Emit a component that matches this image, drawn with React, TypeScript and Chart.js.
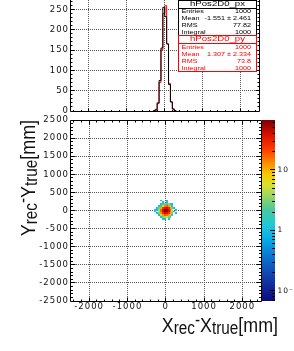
import React, { useEffect, useRef } from "react";
import { Chart, registerables } from "chart.js";

Chart.register(...registerables);

// ---------------- data ----------------
const X_MIN = -2500;
const X_MAX = 2500;
const Y_MIN = -2500;
const Y_MAX = 2500;
const HIST_Y_MAX = 273;
const Z_MIN = 0.068;
const Z_MAX = 67;

// 50 mm bins around the peak (outside: empty)
const binEdges = [-300, -250, -200, -150, -100, -50, 0, 50, 100, 150, 200, 250, 300];
const pxCounts = [1, 4, 20, 75, 155, 255, 232, 165, 65, 22, 5, 1];
const pyCounts = [0, 2, 18, 70, 150, 240, 259, 165, 68, 23, 5, 0];

// 2D map: rows from y = [250,300] (top) down to y = [-300,-250]; columns follow binEdges in x
const mapCounts = [
  [0, 0, 0, 1, 0, 0, 1, 0, 0, 0, 0, 0],
  [0, 0, 0, 0, 1, 0, 1, 0, 0, 0, 0, 0],
  [0, 0, 0, 1, 2, 3, 2, 4, 1, 1, 0, 0],
  [0, 0, 1, 2, 6, 14, 18, 12, 5, 1, 0, 0],
  [0, 1, 3, 11, 24, 37, 40, 27, 12, 3, 1, 0],
  [1, 1, 4, 17, 39, 58, 55, 36, 17, 5, 0, 1],
  [1, 0, 5, 18, 36, 60, 57, 39, 16, 4, 1, 0],
  [0, 1, 3, 12, 27, 39, 36, 25, 11, 3, 0, 1],
  [0, 0, 1, 5, 12, 18, 16, 11, 4, 2, 0, 0],
  [0, 0, 0, 1, 3, 4, 5, 3, 2, 0, 0, 0],
  [0, 0, 0, 0, 1, 1, 0, 1, 0, 0, 0, 0],
  [0, 0, 0, 0, 0, 0, 0, 0, 0, 0, 0, 0],
];

const xTickValues = [-2000, -1000, 0, 1000, 2000];
const yTickValues = [-2500, -2000, -1500, -1000, -500, 0, 500, 1000, 1500, 2000, 2500];
const histYTickValues = [0, 50, 100, 150, 200, 250];
const zTickValues = [0.1, 1, 10];
const zTickLabels = ["10\u207B\u00B9", "1", "10"];
const zMinorTickValues = [0.07, 0.08, 0.09, 0.2, 0.3, 0.4, 0.5, 0.6, 0.7, 0.8, 0.9, 2, 3, 4, 5, 6, 7, 8, 9, 20, 30, 40, 50, 60];

const statLabels = ["Entries", "Mean", "RMS", "Integral"];
const pxStatValues = ["1000", "-1.551 \u00B1 2.461", "77.82", "1000"];
const pyStatValues = ["1000", "1.307 \u00B1 2.334", "73.8", "1000"];
const pxTitle = "hPos2D0_px";
const pyTitle = "hPos2D0_py";

// ---------------- style ----------------
const PALETTE: [number, string][] = [
  [0.0, "#0c0c7a"],
  [0.12, "#1438a8"],
  [0.25, "#0a78d0"],
  [0.35, "#08b0e8"],
  [0.42, "#20c8d8"],
  [0.5, "#48c8a0"],
  [0.57, "#90d468"],
  [0.64, "#d8e030"],
  [0.7, "#f8c800"],
  [0.76, "#f89000"],
  [0.84, "#ff3800"],
  [0.92, "#d81000"],
  [1.0, "#7a0000"],
];
const TICK_FONT = { family: "DejaVu Sans", size: 8.5 };
const GRID_COLOR = "#555";
const RED = "#ff0000";
const plainLabel = (v: any) => String(v);

function hexRgb(h: string) {
  return [parseInt(h.slice(1, 3), 16), parseInt(h.slice(3, 5), 16), parseInt(h.slice(5, 7), 16)];
}
function paletteColor(f: number) {
  f = Math.max(0, Math.min(1, f));
  for (let i = 1; i < PALETTE.length; i++) {
    if (f <= PALETTE[i][0]) {
      const [p0, c0] = PALETTE[i - 1];
      const [p1, c1] = PALETTE[i];
      const t = (f - p0) / (p1 - p0);
      const a = hexRgb(c0), b = hexRgb(c1);
      return `rgb(${a.map((v, k) => Math.round(v + (b[k] - v) * t)).join(",")})`;
    }
  }
  return PALETTE[PALETTE.length - 1][1];
}

function stepPoints(counts: number[]) {
  const pts = [{ x: binEdges[0], y: 0 }];
  counts.forEach((c, i) => pts.push({ x: binEdges[i], y: c }));
  pts.push({ x: binEdges[binEdges.length - 1], y: 0 });
  return pts;
}

type Part = { t: string; size: number; dy: number };
const xTitleParts: Part[] = [
  { t: "X", size: 21, dy: 0 },
  { t: "rec", size: 18, dy: 2 },
  { t: "-", size: 18, dy: -6 },
  { t: "X", size: 21, dy: 0 },
  { t: "true", size: 18, dy: 2 },
  { t: "[mm]", size: 21, dy: 0 },
];
const yTitleParts: Part[] = [
  { t: "Y", size: 21, dy: 0 },
  { t: "rec", size: 18, dy: 2 },
  { t: "-", size: 18, dy: -6 },
  { t: "Y", size: 21, dy: 0 },
  { t: "true", size: 18, dy: 2 },
  { t: "[mm]", size: 21, dy: 0 },
];

function drawParts(ctx: CanvasRenderingContext2D, parts: Part[], sx: number) {
  ctx.scale(sx, 1);
  ctx.textAlign = "left";
  ctx.textBaseline = "alphabetic";
  ctx.fillStyle = "#111";
  const widths = parts.map((p) => {
    ctx.font = `${p.size}px "Liberation Sans"`;
    return ctx.measureText(p.t).width;
  });
  let cur = -widths.reduce((a, b) => a + b, 0);
  parts.forEach((p, i) => {
    ctx.font = `${p.size}px "Liberation Sans"`;
    ctx.fillText(p.t, cur, p.dy);
    cur += widths[i];
  });
}

function stretchedText(ctx: CanvasRenderingContext2D, text: string, x: number, y: number, size: number, sx: number, align: CanvasTextAlign, color: string) {
  ctx.save();
  ctx.font = `${size}px "Liberation Sans"`;
  ctx.fillStyle = color;
  ctx.textAlign = align;
  ctx.textBaseline = "middle";
  ctx.translate(x, y);
  ctx.scale(sx, 1);
  ctx.fillText(text, 0, 0);
  ctx.restore();
}

function drawStatBox(ctx: CanvasRenderingContext2D, y0: number, y1: number, lineY: number, titleY: number, rowYs: number[], title: string, values: string[], color: string) {
  const x0 = 178.5, x1 = 256.5;
  ctx.save();
  ctx.fillStyle = "#fff";
  ctx.fillRect(x0, y0, x1 - x0, y1 - y0);
  ctx.strokeStyle = color;
  ctx.lineWidth = 1;
  ctx.strokeRect(x0, y0, x1 - x0, y1 - y0);
  ctx.beginPath();
  ctx.moveTo(x0, lineY);
  ctx.lineTo(x1, lineY);
  ctx.stroke();
  ctx.restore();
  stretchedText(ctx, title, (x0 + x1) / 2, titleY, 7.5, 1.28, "center", color);
  statLabels.forEach((lab, i) => {
    stretchedText(ctx, lab, 181.5, rowYs[i], 6, 1.2, "left", color);
    stretchedText(ctx, values[i], 251, rowYs[i], 6, 1.2, "right", color);
  });
}

function noSpacing(ctx: any) {
  ctx.letterSpacing = "0px";
}

const spacingPlugin = {
  id: "spacing",
  beforeDraw(chart: any) {
    chart.ctx.letterSpacing = "1px";
  },
  afterDraw(chart: any) {
    chart.ctx.letterSpacing = "0px";
  },
};

const topPlugin = {
  id: "topDecor",
  beforeDatasetsDraw(chart: any) {
    const { ctx, chartArea: a, scales } = chart;
    const x = scales.x, y = scales.y;
    ctx.save();
    noSpacing(ctx);
    ctx.strokeStyle = GRID_COLOR;
    ctx.lineWidth = 1;
    ctx.setLineDash([1, 1]);
    ctx.beginPath();
    xTickValues.forEach((v) => {
      const px = Math.floor(x.getPixelForValue(v)) + 0.5;
      ctx.moveTo(px, a.top);
      ctx.lineTo(px, a.bottom);
    });
    histYTickValues.slice(1).forEach((v) => {
      const py = Math.floor(y.getPixelForValue(v)) + 0.5;
      ctx.moveTo(a.left, py);
      ctx.lineTo(a.right, py);
    });
    ctx.stroke();
    ctx.restore();
  },
  afterDatasetsDraw(chart: any) {
    const { ctx, chartArea: a, scales } = chart;
    const x = scales.x, y = scales.y;
    const L = Math.floor(a.left) + 0.5, R = Math.floor(a.right) + 0.5, B = Math.floor(a.bottom) + 0.5;
    ctx.save();
    ctx.strokeStyle = "#000";
    ctx.lineWidth = 1;
    ctx.beginPath();
    ctx.moveTo(L, a.top - 2);
    ctx.lineTo(L, B);
    ctx.lineTo(R, B);
    ctx.lineTo(R, a.top - 2);
    for (let v = 10; v < HIST_Y_MAX; v += 10) {
      const py = Math.floor(y.getPixelForValue(v)) + 0.5;
      const len = v % 50 === 0 ? 4 : 2;
      ctx.moveTo(L, py);
      ctx.lineTo(L + len, py);
      ctx.moveTo(R, py);
      ctx.lineTo(R - len, py);
    }
    for (let v = -2400; v <= 2400; v += 200) {
      const px = Math.floor(x.getPixelForValue(v)) + 0.5;
      const len = v % 1000 === 0 ? 3 : 1.5;
      ctx.moveTo(px, B);
      ctx.lineTo(px, B - len);
    }
    ctx.stroke();
    ctx.restore();
  },
  afterDraw(chart: any) {
    const ctx = chart.ctx;
    ctx.save();
    noSpacing(ctx);
    drawStatBox(ctx, 0.5, 35.5, 8.5, 4, [11.5, 18.8, 25.6, 32.4], pxTitle, pxStatValues, "#000");
    drawStatBox(ctx, 35.5, 71.5, 43.5, 39.3, [47.3, 54.2, 61, 67.9], pyTitle, pyStatValues, RED);
    ctx.restore();
  },
};

const mapPlugin = {
  id: "mapDecor",
  beforeDatasetsDraw(chart: any) {
    const { ctx, chartArea: a, scales } = chart;
    const x = scales.x, y = scales.y, z = scales.z;
    ctx.save();
    noSpacing(ctx);
    // dotted grid
    ctx.strokeStyle = GRID_COLOR;
    ctx.lineWidth = 1;
    ctx.setLineDash([1, 1]);
    ctx.beginPath();
    xTickValues.forEach((v) => {
      const px = Math.floor(x.getPixelForValue(v)) + 0.5;
      ctx.moveTo(px, a.top);
      ctx.lineTo(px, a.bottom);
    });
    yTickValues.slice(1, -1).forEach((v) => {
      const py = Math.floor(y.getPixelForValue(v)) + 0.5;
      ctx.moveTo(a.left, py);
      ctx.lineTo(a.right, py);
    });
    ctx.stroke();
    ctx.setLineDash([]);
    // cells
    const n = binEdges.length - 1;
    mapCounts.forEach((row, r) => {
      const yHi = binEdges[n - r], yLo = binEdges[n - r - 1];
      row.forEach((c, k) => {
        if (c <= 0) return;
        const x0 = Math.round(x.getPixelForValue(binEdges[k]));
        const x1 = Math.round(x.getPixelForValue(binEdges[k + 1]));
        const y0 = Math.round(y.getPixelForValue(yHi));
        const y1 = Math.round(y.getPixelForValue(yLo));
        const f = (z.bottom - z.getPixelForValue(c)) / (z.bottom - z.top);
        ctx.fillStyle = paletteColor(f);
        ctx.fillRect(x0, y0, x1 - x0, y1 - y0);
      });
    });
    ctx.restore();
  },
  afterDatasetsDraw(chart: any) {
    const { ctx, chartArea: a, scales } = chart;
    const x = scales.x, y = scales.y;
    const L = Math.floor(a.left) + 0.5, R = Math.floor(a.right) + 0.5;
    const T = Math.floor(a.top) + 0.5, B = Math.floor(a.bottom) + 0.5;
    ctx.save();
    ctx.strokeStyle = "#000";
    ctx.lineWidth = 1;
    ctx.beginPath();
    ctx.rect(L, T, R - L, B - T);
    for (let v = -2400; v <= 2400; v += 200) {
      const px = Math.floor(x.getPixelForValue(v)) + 0.5;
      const len = v % 1000 === 0 ? 4 : 2;
      ctx.moveTo(px, B);
      ctx.lineTo(px, B - len);
      ctx.moveTo(px, T);
      ctx.lineTo(px, T + len);
    }
    for (let v = -2400; v <= 2400; v += 100) {
      const py = Math.floor(y.getPixelForValue(v)) + 0.5;
      const len = v % 500 === 0 ? 5 : 2.5;
      ctx.moveTo(L, py);
      ctx.lineTo(L + len, py);
      ctx.moveTo(R, py);
      ctx.lineTo(R - len, py);
    }
    ctx.stroke();
    ctx.restore();
  },
  afterDraw(chart: any) {
    const { ctx, chartArea: a, scales } = chart;
    const z = scales.z;
    ctx.save();
    noSpacing(ctx);
    // colour bar
    const cx0 = Math.floor(a.right) + 1;
    const cx1 = cx0 + 13;
    const grad = ctx.createLinearGradient(0, z.bottom, 0, z.top);
    PALETTE.forEach(([p, c]) => grad.addColorStop(p, c));
    ctx.fillStyle = grad;
    ctx.fillRect(cx0, z.top, cx1 - cx0, z.bottom - z.top);
    ctx.strokeStyle = "#000";
    ctx.lineWidth = 1;
    ctx.beginPath();
    zTickValues.forEach((v) => {
      const py = Math.floor(z.getPixelForValue(v)) + 0.5;
      ctx.moveTo(cx1, py);
      ctx.lineTo(cx1 - 5, py);
    });
    zMinorTickValues.forEach((v) => {
      if (v < Z_MIN || v > Z_MAX) return;
      const py = Math.floor(z.getPixelForValue(v)) + 0.5;
      ctx.moveTo(cx1, py);
      ctx.lineTo(cx1 - 3, py);
    });
    ctx.stroke();
    ctx.restore();
    // axis titles
    ctx.save();
    noSpacing(ctx);
    ctx.translate(278, 219.7);
    drawParts(ctx, xTitleParts, 0.85);
    ctx.restore();
    ctx.save();
    noSpacing(ctx);
    ctx.translate(35, a.top);
    ctx.rotate(-Math.PI / 2);
    drawParts(ctx, yTitleParts, 0.85);
    ctx.restore();
  },
};

export default function App() {
  const topRef = useRef<HTMLCanvasElement>(null);
  const botRef = useRef<HTMLCanvasElement>(null);

  useEffect(() => {
    document.body.style.margin = "0";
    const top = new Chart(topRef.current as HTMLCanvasElement, {
      type: "line",
      data: {
        datasets: [
          { label: "px", data: stepPoints(pxCounts), borderColor: "#000", borderWidth: 1, stepped: "before", pointRadius: 0, fill: false },
          { label: "py", data: stepPoints(pyCounts), borderColor: RED, borderWidth: 1, stepped: "before", pointRadius: 0, fill: false },
        ] as any,
      },
      options: {
        responsive: false,
        animation: false,
        devicePixelRatio: 1,
        events: [],
        layout: { padding: { left: 0, right: 294 - 259.5, top: 0, bottom: 0 } },
        plugins: { legend: { display: false }, tooltip: { enabled: false } },
        scales: {
          x: {
            type: "linear",
            min: X_MIN,
            max: X_MAX,
            ticks: { display: false },
            grid: { display: false, drawTicks: false },
            border: { display: false },
            afterFit(s: any) {
              s.height = 9;
              s.paddingLeft = 0;
              s.paddingRight = 0;
            },
          },
          y: {
            type: "linear",
            min: 0,
            max: HIST_Y_MAX,
            afterBuildTicks(s: any) {
              s.ticks = histYTickValues.map((v) => ({ value: v }));
            },
            ticks: { font: TICK_FONT, color: "#111", padding: 1, autoSkip: false, callback: plainLabel },
            grid: { display: false, drawTicks: false },
            border: { display: false },
            afterFit(s: any) {
              s.width = 70;
              s.paddingTop = 0;
              s.paddingBottom = 0;
            },
          },
        },
      } as any,
      plugins: [spacingPlugin, topPlugin],
    });

    const bottom = new Chart(botRef.current as HTMLCanvasElement, {
      type: "scatter",
      data: { datasets: [] },
      options: {
        responsive: false,
        animation: false,
        devicePixelRatio: 1,
        events: [],
        layout: { padding: { left: 0, right: 0, top: 8, bottom: 0 } },
        plugins: { legend: { display: false }, tooltip: { enabled: false } },
        scales: {
          x: {
            type: "linear",
            min: X_MIN,
            max: X_MAX,
            afterBuildTicks(s: any) {
              s.ticks = xTickValues.map((v) => ({ value: v }));
            },
            ticks: { font: TICK_FONT, color: "#111", padding: 1, maxRotation: 0, autoSkip: false, callback: plainLabel },
            grid: { display: false, drawTicks: false },
            border: { display: false },
            afterFit(s: any) {
              s.height = 50;
              s.paddingLeft = 0;
              s.paddingRight = 0;
            },
          },
          y: {
            type: "linear",
            min: Y_MIN,
            max: Y_MAX,
            afterBuildTicks(s: any) {
              s.ticks = yTickValues.map((v) => ({ value: v }));
            },
            ticks: { font: TICK_FONT, color: "#111", padding: 1, autoSkip: false, callback: plainLabel },
            grid: { display: false, drawTicks: false },
            border: { display: false },
            afterFit(s: any) {
              s.width = 70;
              s.paddingTop = 0;
              s.paddingBottom = 0;
            },
          },
          z: {
            type: "logarithmic",
            position: "right",
            min: Z_MIN,
            max: Z_MAX,
            afterBuildTicks(s: any) {
              s.ticks = zTickValues.map((v) => ({ value: v }));
            },
            ticks: {
              font: { family: "DejaVu Sans", size: 7.5 },
              color: "#111",
              padding: 16,
              autoSkip: false,
              callback: (v: any) => zTickLabels[zTickValues.indexOf(Number(v))] ?? "",
            },
            grid: { display: false, drawTicks: false },
            border: { display: false },
            afterFit(s: any) {
              s.width = 294 - 261.5;
              s.paddingTop = 0;
              s.paddingBottom = 0;
            },
          },
        },
      } as any,
      plugins: [spacingPlugin, mapPlugin],
    });

    return () => {
      top.destroy();
      bottom.destroy();
    };
  }, []);

  return (
    <div style={{ position: "absolute", left: 0, top: 0, width: 294, height: 351, background: "#fff", overflow: "hidden" }}>
      <canvas ref={topRef} width={294} height={120} style={{ position: "absolute", left: 0, top: 0 }} />
      <canvas ref={botRef} width={294} height={239} style={{ position: "absolute", left: 0, top: 112 }} />
    </div>
  );
}
